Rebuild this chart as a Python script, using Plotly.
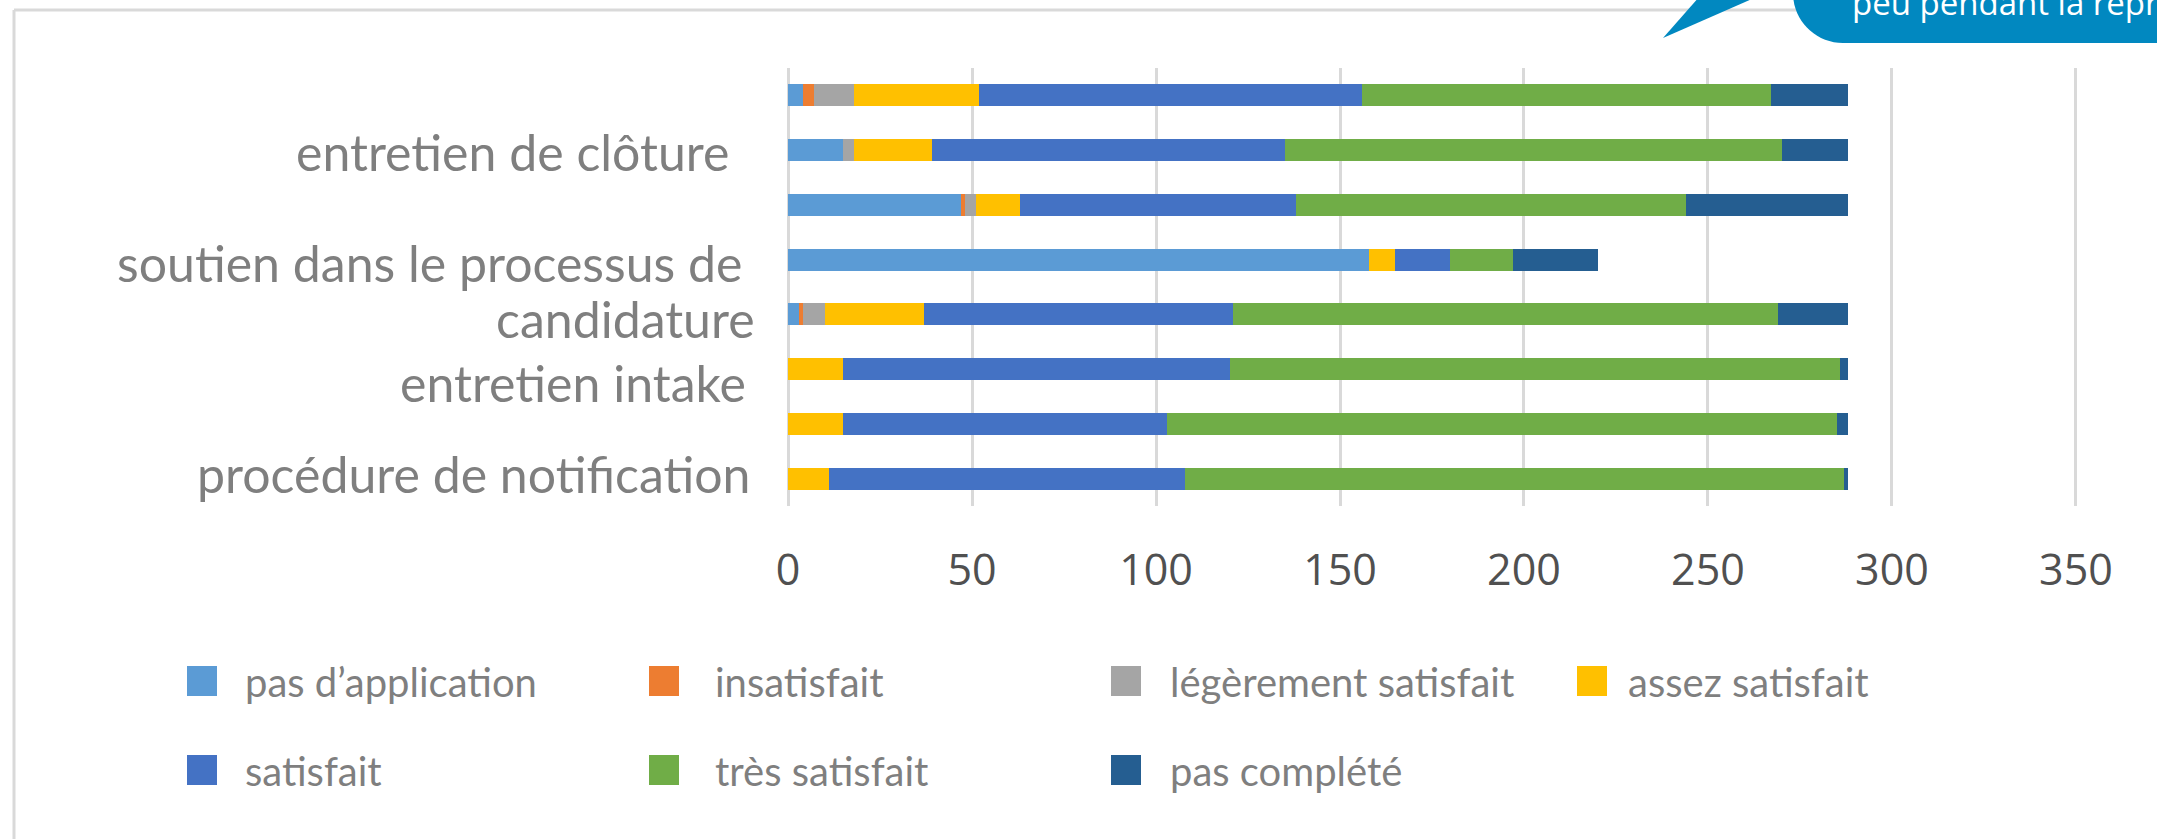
import plotly.graph_objects as go

# ---------------- data ----------------
# categories from top to bottom (only every other label is printed in the original)
categories = ["", "entretien de clôture", "", "soutien dans le processus de candidature",
              "", "entretien intake", "", "procédure de notification"]

series_names = ["pas d’application", "insatisfait", "légèrement satisfait", "assez satisfait",
                "satisfait", "très satisfait", "pas complété"]

pas_application = [4, 15, 47, 158, 3, 0, 0, 0]
insatisfait = [3, 0, 1, 0, 1, 0, 0, 0]
legerement_satisfait = [11, 3, 3, 0, 6, 0, 0, 0]
assez_satisfait = [34, 21, 12, 7, 27, 15, 15, 11]
satisfait = [104, 96, 75, 15, 84, 105, 88, 97]
tres_satisfait = [111, 135, 106, 17, 148, 166, 182, 179]
pas_complete = [21, 18, 44, 23, 19, 2, 3, 1]

series_values = [pas_application, insatisfait, legerement_satisfait, assez_satisfait,
                 satisfait, tres_satisfait, pas_complete]
series_colors = ["#5B9BD5", "#ED7D31", "#A5A5A5", "#FFC000", "#4472C4", "#70AD47", "#255E91"]

x_ticks = [0, 50, 100, 150, 200, 250, 300, 350]
callout_text = "peu pendant la repri"

# ---------------- layout geometry (pixels) ----------------
W, H = 2157, 839
L, R, T, B = 777, 2087, 68, 506


def px_x(px):
    return (px - L) / (R - L)


def px_y(py):
    return (B - py) / (B - T)


label_font = "Lato, 'Open Sans', sans-serif"
grey_text = "#7f7f7f"

fig = go.Figure()
ypos = list(range(len(categories)))
for name, vals, col in zip(series_names, series_values, series_colors):
    fig.add_trace(go.Bar(
        y=ypos, x=vals, name=name, orientation="h",
        marker=dict(color=col, line=dict(width=0)),
        width=0.4, showlegend=False, hoverinfo="x+name",
    ))

shapes = []
annotations = []

# outer chart frame (top and left edges visible)
shapes.append(dict(type="line", xref="paper", yref="paper",
                   x0=px_x(14), x1=px_x(2170), y0=px_y(10), y1=px_y(10),
                   line=dict(color="#d9d9d9", width=3), layer="below"))
shapes.append(dict(type="line", xref="paper", yref="paper",
                   x0=px_x(14), x1=px_x(14), y0=px_y(10), y1=px_y(860),
                   line=dict(color="#d9d9d9", width=3), layer="below"))

# category labels (right aligned left of the plot)
label_items = [  # (text, pixel right edge, pixel centre y)
    ("entretien de clôture", 731, 152),
    ("soutien dans le processus de", 744, 263),
    ("candidature", 757, 319),
    ("entretien intake", 748, 383),
    ("procédure de notification", 753, 474),
]
for txt, rx, cy in label_items:
    annotations.append(dict(text=txt, xref="paper", yref="paper",
                            x=px_x(rx), y=px_y(cy), xanchor="right", yanchor="middle",
                            showarrow=False,
                            font=dict(family=label_font, size=50, color=grey_text)))

# legend built from the series
col_marker_x = [187, 649, 1111, 1577]
col_text_x = [243, 713, 1168, 1626]
row_y = [682, 771]
for i, (name, col) in enumerate(zip(series_names, series_colors)):
    c, r = i % 4, i // 4
    cy = row_y[r]
    shapes.append(dict(type="rect", xref="paper", yref="paper",
                       x0=px_x(col_marker_x[c]), x1=px_x(col_marker_x[c] + 30),
                       y0=px_y(cy - 16), y1=px_y(cy + 14),
                       fillcolor=col, line=dict(width=0)))
    annotations.append(dict(text=name, xref="paper", yref="paper",
                            x=px_x(col_text_x[c]), y=px_y(cy), xanchor="left", yanchor="middle",
                            showarrow=False,
                            font=dict(family=label_font, size=40, color=grey_text)))

# callout bubble (top right, partly outside the picture)
blue = "#0188c0"
tri = [(1663, 38), (1707, -12), (1777, -12)]
path = "M {:.5f},{:.5f} ".format(px_x(tri[0][0]), px_y(tri[0][1]))
path += " ".join("L {:.5f},{:.5f}".format(px_x(a), px_y(b)) for a, b in tri[1:]) + " Z"
shapes.append(dict(type="path", xref="paper", yref="paper", path=path,
                   fillcolor=blue, line=dict(width=0)))
r = 50
pts = [(1793, -30), (1793, 43 - r)]
rect_path = "M {:.5f},{:.5f} L {:.5f},{:.5f} ".format(px_x(pts[0][0]), px_y(pts[0][1]),
                                                      px_x(pts[1][0]), px_y(pts[1][1]))
k = 0.5523 * r
rect_path += "C {:.5f},{:.5f} {:.5f},{:.5f} {:.5f},{:.5f} ".format(
    px_x(1793), px_y(43 - r + k), px_x(1793 + r - k), px_y(43), px_x(1793 + r), px_y(43))
rect_path += "L {:.5f},{:.5f} L {:.5f},{:.5f} Z".format(px_x(2200), px_y(43), px_x(2200), px_y(-30))
shapes.append(dict(type="path", xref="paper", yref="paper", path=rect_path,
                   fillcolor=blue, line=dict(width=0)))
annotations.append(dict(text=callout_text, xref="paper", yref="paper",
                        x=px_x(1850), y=px_y(2), xanchor="left", yanchor="middle",
                        showarrow=False,
                        font=dict(family="'Open Sans', sans-serif", size=33, color="white")))

fig.update_layout(
    width=W, height=H,
    margin=dict(l=L, r=W - R, t=T, b=H - B, autoexpand=False),
    paper_bgcolor="white", plot_bgcolor="white",
    barmode="stack",
    showlegend=False,
    shapes=shapes,
    annotations=annotations,
    xaxis=dict(range=[-3, 353], tickvals=x_ticks, ticktext=[str(v) for v in x_ticks],
               showgrid=True, gridcolor="#d9d9d9", gridwidth=3, zeroline=False,
               showline=False, ticks="", ticklabelstandoff=35,
               tickfont=dict(family="'Open Sans', sans-serif", size=43, color="#505050"),
               fixedrange=True),
    yaxis=dict(range=[len(categories) - 0.5, -0.5], showticklabels=False, showgrid=False,
               zeroline=False, showline=False, ticks="", fixedrange=True),
)

fig.write_html("out.html", config={"displayModeBar": False},
               post_script="document.body.style.margin='0px';document.body.style.overflow='hidden';")
